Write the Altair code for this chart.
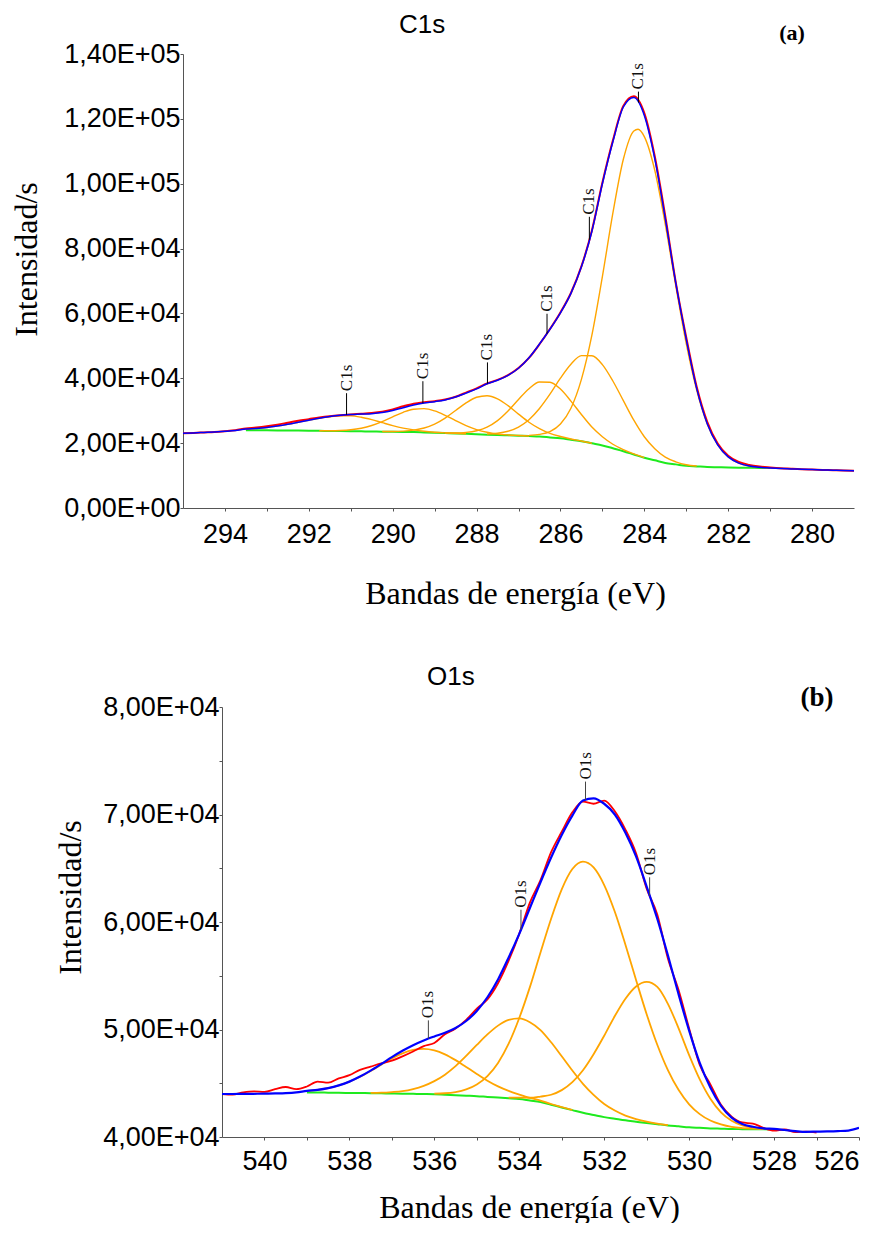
import altair as alt
import pandas as pd

# ---------------- Panel (a): C1s ----------------
A_X = [295.0, 294.75, 294.5, 294.25, 294.0, 293.75, 293.5, 293.25, 293.0, 292.75, 292.5, 292.25,
       292.0, 291.75, 291.5, 291.25, 291.0, 290.75, 290.5, 290.25, 290.0, 289.75, 289.5, 289.25,
       289.0, 288.75, 288.5, 288.25, 288.0, 287.75, 287.5, 287.25, 287.0, 286.75, 286.5, 286.25,
       286.0, 285.75, 285.5, 285.25, 285.0, 284.75, 284.5, 284.25, 284.0, 283.75, 283.5, 283.25,
       283.0, 282.75, 282.5, 282.25, 282.0, 281.75, 281.5, 281.25, 281.0, 280.75, 280.5, 280.25,
       280.0, 279.75, 279.5, 279.25, 279.0]
A_ENV = [23050, 23150, 23300, 23450, 23650, 23900, 24330, 24540, 24840, 25270, 25800, 26420,
         27060, 27680, 28200, 28590, 28850, 28970, 29090, 29430, 30080, 30940, 31760, 32350,
         32790, 33330, 34220, 35430, 36720, 38300, 39400, 40900, 43100, 46330, 50560, 55120,
         60170, 66180, 74360, 85330, 100000, 112920, 123660, 126600, 121070, 107680, 89230, 69400,
         52000, 36800, 25980, 19450, 15750, 13850, 12940, 12540, 12360, 12200, 12050, 11950,
         11850, 11750, 11650, 11550, 11500]
A_RAW = [23050, 23150, 23300, 23450, 23700, 24000, 24500, 24800, 25200, 25700, 26300, 26900,
         27400, 27900, 28300, 28600, 28850, 29050, 29300, 29700, 30400, 31350, 32150, 32600,
         32950, 33450, 34300, 35600, 36900, 38400, 39500, 41000, 43200, 46300, 50500, 55200,
         60300, 66300, 74500, 85600, 100300, 113300, 124000, 127000, 121800, 108400, 90000, 69600,
         52600, 37300, 26600, 19900, 16100, 14200, 13300, 12800, 12500, 12250, 12100, 11950,
         11850, 11750, 11650, 11550, 11500]
A_BG_X = [293.5, 293.25, 293.0, 292.75, 292.5, 292.25, 292.0, 291.75, 291.5, 291.25, 291.0,
          290.75, 290.5, 290.25, 290.0, 289.75, 289.5, 289.25, 289.0, 288.75, 288.5, 288.25,
          288.0, 287.75, 287.5, 287.25, 287.0, 286.75, 286.5, 286.25, 286.0, 285.75, 285.5,
          285.25, 285.0, 284.75, 284.5, 284.25, 284.0, 283.75, 283.5, 283.25, 283.0, 282.75,
          282.5, 282.25, 282.0, 281.75, 281.5, 281.25, 281.0]
A_BG = [24000, 23975, 23950, 23925, 23900, 23862, 23825, 23788, 23750, 23712, 23675,
        23638, 23600, 23550, 23500, 23450, 23400, 23300, 23200, 23100, 23000, 22875,
        22750, 22625, 22500, 22400, 22300, 22175, 22050, 21775, 21500, 21050, 20600,
        19950, 19300, 18400, 17500, 16500, 15500, 14700, 13900, 13450, 13000, 12825,
        12650, 12575, 12500, 12450, 12400, 12350, 12300]
A_C1_X = [293.5, 293.25, 293.0, 292.75, 292.5, 292.25, 292.0, 291.75, 291.5, 291.25, 291.0,
          290.75, 290.5, 290.25, 290.0, 289.75, 289.5, 289.25, 289.0, 288.75, 288.5, 288.25]
A_C1 = [24330, 24540, 24840, 25270, 25800, 26420, 27060, 27660, 28130, 28400, 28400,
        28000, 27250, 26320, 25410, 24640, 24080, 23650, 23360, 23170, 23030, 22880]
A_C2_X = [291.75, 291.5, 291.25, 291.0, 290.75, 290.5, 290.25, 290.0, 289.75, 289.5, 289.25,
          289.0, 288.75, 288.5, 288.25, 288.0, 287.75, 287.5, 287.25, 287.0, 286.75]
A_C2 = [23810, 23820, 23900, 24130, 24610, 25430, 26630, 28080, 29500, 30470, 30630,
        29940, 28590, 26970, 25410, 24190, 23350, 22820, 22530, 22350, 22190]
A_C3_X = [290.25, 290.0, 289.75, 289.5, 289.25, 289.0, 288.75, 288.5, 288.25, 288.0, 287.75,
          287.5, 287.25, 287.0, 286.75, 286.5, 286.25, 286.0, 285.75, 285.5, 285.25]
A_C3 = [23580, 23590, 23700, 24020, 24670, 25870, 27730, 30070, 32420, 34140, 34630,
        33660, 31580, 28960, 26450, 24470, 22990, 22040, 21260, 20670, 19970]
A_C4_X = [288.75, 288.5, 288.25, 288.0, 287.75, 287.5, 287.25, 287.0, 286.75, 286.5, 286.25,
          286.0, 285.75, 285.5, 285.25, 285.0, 284.75, 284.5, 284.25, 284.0]
A_C4 = [23150, 23150, 23310, 23820, 24950, 26960, 29930, 33480, 36790, 38860, 38800,
        36680, 32960, 28830, 24960, 21980, 19660, 18020, 16690, 15560]
A_C5_X = [287.75, 287.5, 287.25, 287.0, 286.75, 286.5, 286.25, 286.0, 285.75, 285.5, 285.25,
          285.0, 284.75, 284.5, 284.25, 284.0, 283.75, 283.5, 283.25, 283.0, 282.75]
A_C5 = [22840, 23050, 23670, 24970, 27220, 30680, 35090, 40040, 44330, 46990, 46940,
        44210, 39160, 33100, 27070, 21980, 18280, 15680, 14250, 13330, 12940]
A_C6_X = [286.75, 286.5, 286.25, 286.0, 285.75, 285.5, 285.25, 285.0, 284.75, 284.5, 284.25,
          284.15, 284.0, 283.75, 283.5, 283.25, 283.0, 282.75, 282.5, 282.25, 282.0, 281.75,
          281.5, 281.25, 281.0]
A_C6 = [22390, 22700, 23570, 25920, 30780, 39670, 53310, 71360, 90900, 107540, 116280,
        116800, 114530, 104100, 87450, 68590, 50660, 36290, 25940, 19450, 15740, 13840,
        12940, 12540, 12360]
A_LBL_X = [291.1, 289.28, 287.74, 286.32, 285.31, 284.14]
A_LBL_Y = [28750, 32300, 38350, 53700, 82700, 125000]
A_LBL_TOP = [35400, 39100, 44900, 59900, 89800, 128400]
A_LBL_TXT = ["C1s", "C1s", "C1s", "C1s", "C1s", "C1s"]
A_XTICKS = [294, 293, 292, 291, 290, 289, 288, 287, 286, 285, 284, 283, 282, 281, 280]
A_XLABELS = ["294", "", "292", "", "290", "", "288", "", "286", "", "284", "", "282", "", "280"]
A_YTICKS = [0, 10000, 20000, 30000, 40000, 50000, 60000, 70000, 80000, 90000, 100000,
            110000, 120000, 130000, 140000]
A_YLABELS = ["0,00E+00", "", "2,00E+04", "", "4,00E+04", "", "6,00E+04", "", "8,00E+04", "",
             "1,00E+05", "", "1,20E+05", "", "1,40E+05"]

# ---------------- Panel (b): O1s ----------------
B_X = [541.0, 540.75, 540.5, 540.25, 540.0, 539.75, 539.5, 539.25, 539.0, 538.75, 538.5, 538.25,
       538.0, 537.75, 537.5, 537.25, 537.0, 536.75, 536.5, 536.25, 536.0, 535.75, 535.5, 535.25,
       535.0, 534.75, 534.5, 534.25, 534.0, 533.75, 533.5, 533.25, 533.0, 532.75, 532.5, 532.25,
       532.0, 531.75, 531.5, 531.25, 531.0, 530.75, 530.5, 530.25, 530.0, 529.75, 529.5, 529.25,
       529.0, 528.75, 528.5, 528.25, 528.0, 527.75, 527.5, 527.25, 527.0, 526.75, 526.5, 526.25,
       526.0]
B_ENV = [44000, 44000, 44010, 44020, 44030, 44050, 44080, 44150, 44290, 44390, 44550, 44800,
         45150, 45620, 46170, 46790, 47430, 48020, 48540, 48980, 49350, 49690, 50140, 50790,
         51730, 53000, 54660, 56700, 58900, 61300, 63700, 66000, 68100, 69900, 71300, 71500,
         71000, 70000, 68300, 66100, 63300, 60300, 56900, 53300, 49900, 46900, 44600, 42900,
         41800, 41200, 40950, 40800, 40750, 40650, 40550, 40480, 40500, 40520, 40550, 40600,
         40850]
B_RAW_X = B_X[:57]
B_RAW = [44000, 43950, 44150, 44250, 44200, 44450, 44650, 44450, 44700, 45150, 45050, 45450,
         45750, 46250, 46550, 46850, 47100, 47500, 47950, 48450, 48750, 49550, 50100, 50900,
         51950, 52800, 54300, 56400, 58900, 61800, 63900, 66500, 68400, 70200, 71200, 71000,
         71300, 70300, 68600, 66400, 63100, 60700, 56600, 53700, 50100, 46700, 44900, 43000,
         41900, 41350, 41250, 40850, 40600, 40700, 40450, 40500, 40400]
B_BG_X = [539.0, 538.75, 538.5, 538.25, 538.0, 537.75, 537.5, 537.25, 537.0, 536.75, 536.5,
          536.25, 536.0, 535.75, 535.5, 535.25, 535.0, 534.75, 534.5, 534.25, 534.0, 533.75,
          533.5, 533.25, 533.0, 532.75, 532.5, 532.25, 532.0, 531.75, 531.5, 531.25, 531.0,
          530.75, 530.5, 530.25, 530.0, 529.75, 529.5, 529.25, 529.0, 528.75, 528.5, 528.25,
          528.0]
B_BG = [44150, 44140, 44125, 44110, 44100, 44090, 44075, 44060, 44050, 44030, 44015,
        44000, 43980, 43935, 43890, 43845, 43800, 43730, 43665, 43600, 43530, 43390,
        43250, 43000, 42750, 42500, 42250, 42050, 41850, 41700, 41550, 41425, 41300,
        41190, 41080, 40990, 40900, 40850, 40800, 40770, 40740, 40730, 40720, 40710,
        40700]
B_D1_X = [539.0, 538.75, 538.5, 538.25, 538.0, 537.75, 537.5, 537.25, 537.0, 536.75, 536.5,
          536.25, 536.0, 535.75, 535.5, 535.25, 535.0, 534.75, 534.5, 534.25, 534.0, 533.75,
          533.5, 533.25, 533.0, 532.75]
B_D1 = [44290, 44390, 44550, 44800, 45150, 45600, 46140, 46730, 47310, 47780, 48100,
        48200, 48060, 47690, 47150, 46510, 45870, 45240, 44710, 44290, 43950, 43640,
        43390, 43070, 42790, 42520]
B_D2_X = [537.5, 537.25, 537.0, 536.75, 536.5, 536.25, 536.0, 535.75, 535.5, 535.25, 535.0,
          534.75, 534.5, 534.25, 534.0, 533.75, 533.5, 533.25, 533.0, 532.75, 532.5, 532.25,
          532.0, 531.75, 531.5, 531.25, 531.0, 530.75, 530.5]
B_D2 = [44100, 44120, 44180, 44270, 44460, 44760, 45200, 45800, 46590, 47540, 48560,
        49540, 50360, 50890, 51030, 50680, 49950, 48810, 47510, 46190, 44950, 43920,
        43070, 42460, 41990, 41670, 41430, 41250, 41110]
B_D3_X = [536.0, 535.75, 535.5, 535.25, 535.0, 534.75, 534.5, 534.25, 534.0, 533.75, 533.5,
          533.25, 533.0, 532.75, 532.5, 532.25, 532.0, 531.75, 531.5, 531.25, 531.0, 530.75,
          530.5, 530.25, 530.0, 529.75, 529.5, 529.25, 529.0, 528.75, 528.5, 528.25]
B_D3 = [44040, 44070, 44180, 44430, 44890, 45670, 46890, 48680, 51070, 53940, 57170,
        60310, 63040, 64930, 65620, 65080, 63440, 60950, 57880, 54610, 51420, 48580,
        46220, 44390, 43040, 42130, 41530, 41170, 40940, 40830, 40770, 40730]
B_D4_X = [534.25, 534.0, 533.75, 533.5, 533.25, 533.0, 532.75, 532.5, 532.25, 532.0, 531.75,
          531.5, 531.25, 531.0, 530.75, 530.5, 530.25, 530.0, 529.75, 529.5, 529.25, 529.0,
          528.75, 528.5, 528.25]
B_D4 = [43660, 43660, 43650, 43760, 43930, 44360, 45100, 46210, 47700, 49420, 51250,
        52860, 54000, 54430, 53960, 52390, 50130, 47620, 45360, 43560, 42300, 41520,
        41090, 40870, 40770]
B_LBL_X = [536.14, 533.96, 532.44, 530.93]
B_LBL_Y = [49140, 59280, 71350, 62450]
B_LBL_TOP = [50850, 61140, 73060, 64160]
B_LBL_TXT = ["O1s", "O1s", "O1s", "O1s"]
B_XTICKS = [540, 539, 538, 537, 536, 535, 534, 533, 532, 531, 530, 529, 528, 527, 526]
B_XLABELS = ["540", "", "538", "", "536", "", "534", "", "532", "", "530", "", "528", "", "526"]
B_YTICKS = [40000, 45000, 50000, 55000, 60000, 65000, 70000, 75000, 80000]
B_YLABELS = ["4,00E+04", "", "5,00E+04", "", "6,00E+04", "", "7,00E+04", "", "8,00E+04"]

RED = "#ff0000"
BLUE = "#0000ff"
ORANGE = "#ffa500"
GREEN = "#1eea1e"
AXIS_GRAY = "#555555"


def label_expr(values, labels):
    expr = ""
    for v, l in zip(values, labels):
        expr += f"datum.value == {v} ? '{l}' : "
    return expr + "''"


def line(xs, ys, color, width, xsc, ysc, xaxis=None, yaxis=None):
    df = pd.DataFrame({"e": xs, "v": ys})
    if xaxis is not None:
        xenc = alt.X("e:Q", scale=xsc, axis=xaxis)
        yenc = alt.Y("v:Q", scale=ysc, axis=yaxis)
    else:
        xenc = alt.X("e:Q", scale=xsc)
        yenc = alt.Y("v:Q", scale=ysc)
    return alt.Chart(df).mark_line(color=color, strokeWidth=width, interpolate="monotone",
                                   clip=True).encode(x=xenc, y=yenc)


def static_text(txt, x, y, font, size, weight="normal", align="left", color="black"):
    return alt.Chart(alt.Data(values=[{}])).mark_text(
        text=txt, align=align, baseline="alphabetic", font=font, fontSize=size,
        fontWeight=weight, color=color).encode(x=alt.value(x), y=alt.value(y))


def panel(cfg):
    xsc = alt.Scale(domain=cfg["xdom"], range=cfg["xrange"], reverse=True, nice=False, zero=False)
    ysc = alt.Scale(domain=cfg["ydom"], nice=False, zero=False)
    xaxis = alt.Axis(values=cfg["xticks"], labelExpr=label_expr(cfg["xticks"], cfg["xlabels"]),
                     title="Bandas de energía (eV)", titleX=cfg["xtitle_x"], titleY=cfg["xtitle_y"],
                     titleAlign="center", titleBaseline="alphabetic", titleAngle=0,
                     titleFont="Liberation Serif", titleFontSize=32, titleFontWeight="normal",
                     titleColor="black", labelFont="Liberation Sans", labelFontSize=27,
                     labelColor="black", labelPadding=cfg["xlabpad"], labelAngle=0,
                     labelOverlap=False, labelFlush=True, tickSize=3, tickColor=AXIS_GRAY,
                     domainColor=AXIS_GRAY, grid=False)
    yaxis = alt.Axis(values=cfg["yticks"], labelExpr=label_expr(cfg["yticks"], cfg["ylabels"]),
                     title="Intensidad/s", titleX=cfg["ytitle_x"], titleY=cfg["ytitle_y"],
                     titleAngle=270, titleAlign="center", titleBaseline="alphabetic",
                     titleFont="Liberation Serif", titleFontSize=32, titleFontWeight="normal",
                     titleColor="black", labelFont="Liberation Sans", labelFontSize=27,
                     labelColor="black", labelPadding=0, labelOverlap=False, labelFlush=False,
                     tickSize=3, tickColor=AXIS_GRAY, domainColor=AXIS_GRAY, grid=False,
                     offset=cfg["yoffset"])
    layers = [line(cfg["bg_x"], cfg["bg"], GREEN, 2, xsc, ysc, xaxis, yaxis)]
    for cx, cy in cfg["comps"]:
        layers.append(line(cx, cy, ORANGE, cfg["ow"], xsc, ysc))
    layers.append(line(cfg["raw_x"], cfg["raw"], RED, cfg["rw"], xsc, ysc))
    layers.append(line(cfg["env_x"], cfg["env"], BLUE, cfg["bw"], xsc, ysc))
    ann = pd.DataFrame({"e": cfg["lbl_x"], "v": cfg["lbl_y"], "top": cfg["lbl_top"],
                        "txt": cfg["lbl_txt"]})
    layers.append(alt.Chart(ann).mark_rule(color=cfg["tick_color"], strokeWidth=1).encode(
        x=alt.X("e:Q", scale=xsc), y=alt.Y("v:Q", scale=ysc), y2="top:Q"))
    layers.append(alt.Chart(ann).mark_text(angle=270, align="left", baseline="middle", dx=2,
                                           font="Liberation Serif", fontSize=17,
                                           color="#111111").encode(
        x=alt.X("e:Q", scale=xsc), y=alt.Y("top:Q", scale=ysc), text="txt:N"))
    layers.append(static_text(cfg["title"], cfg["title_x"], cfg["title_y"], "Liberation Sans", 26))
    layers.append(static_text(cfg["tag"], cfg["tag_x"], cfg["tag_y"], "Liberation Serif",
                              cfg["tag_size"], weight="bold", align="center"))
    return alt.layer(*layers).properties(width=cfg["w"], height=cfg["h"])


panel_a = panel(dict(
    xdom=[279, 295], xrange=[0, 671], ydom=[0, 140000], xticks=A_XTICKS, xlabels=A_XLABELS,
    yticks=A_YTICKS, ylabels=A_YLABELS, xtitle_x=332, xtitle_y=95, ytitle_x=-147, ytitle_y=205,
    yoffset=0, xlabpad=10.5, bg_x=A_BG_X, bg=A_BG,
    comps=[(A_C1_X, A_C1), (A_C2_X, A_C2), (A_C3_X, A_C3), (A_C4_X, A_C4), (A_C5_X, A_C5),
           (A_C6_X, A_C6)],
    raw_x=A_X, raw=A_RAW, env_x=A_X, env=A_ENV, ow=1.4, rw=2, bw=1.5,
    lbl_x=A_LBL_X, lbl_y=A_LBL_Y, lbl_top=A_LBL_TOP, lbl_txt=A_LBL_TXT, tick_color="black",
    title="C1s", title_x=216, title_y=-21, tag="(a)", tag_x=609, tag_y=-14, tag_size=22,
    w=671, h=454))

panel_b = panel(dict(
    xdom=[526, 541], xrange=[39, 676], ydom=[40000, 80000], xticks=B_XTICKS, xlabels=B_XLABELS,
    yticks=B_YTICKS, ylabels=B_YLABELS, xtitle_x=346, xtitle_y=80, ytitle_x=-142, ytitle_y=190,
    yoffset=-39, xlabpad=8.5, bg_x=B_BG_X, bg=B_BG,
    comps=[(B_D1_X, B_D1), (B_D2_X, B_D2), (B_D3_X, B_D3), (B_D4_X, B_D4)],
    raw_x=B_RAW_X, raw=B_RAW, env_x=B_X, env=B_ENV, ow=1.8, rw=1.8, bw=2.2,
    lbl_x=B_LBL_X, lbl_y=B_LBL_Y, lbl_top=B_LBL_TOP, lbl_txt=B_LBL_TXT, tick_color="#444444",
    title="O1s", title_x=244, title_y=-22, tag="(b)", tag_x=634, tag_y=-1, tag_size=27,
    w=676, h=430))

chart = alt.concat(panel_a, panel_b, columns=1, spacing=55, align="none").properties(
    padding={"left": 10, "top": 12, "right": 0, "bottom": 0}
).configure_view(stroke=None)

chart.save("out.html", embed_options={"renderer": "svg", "actions": False})
